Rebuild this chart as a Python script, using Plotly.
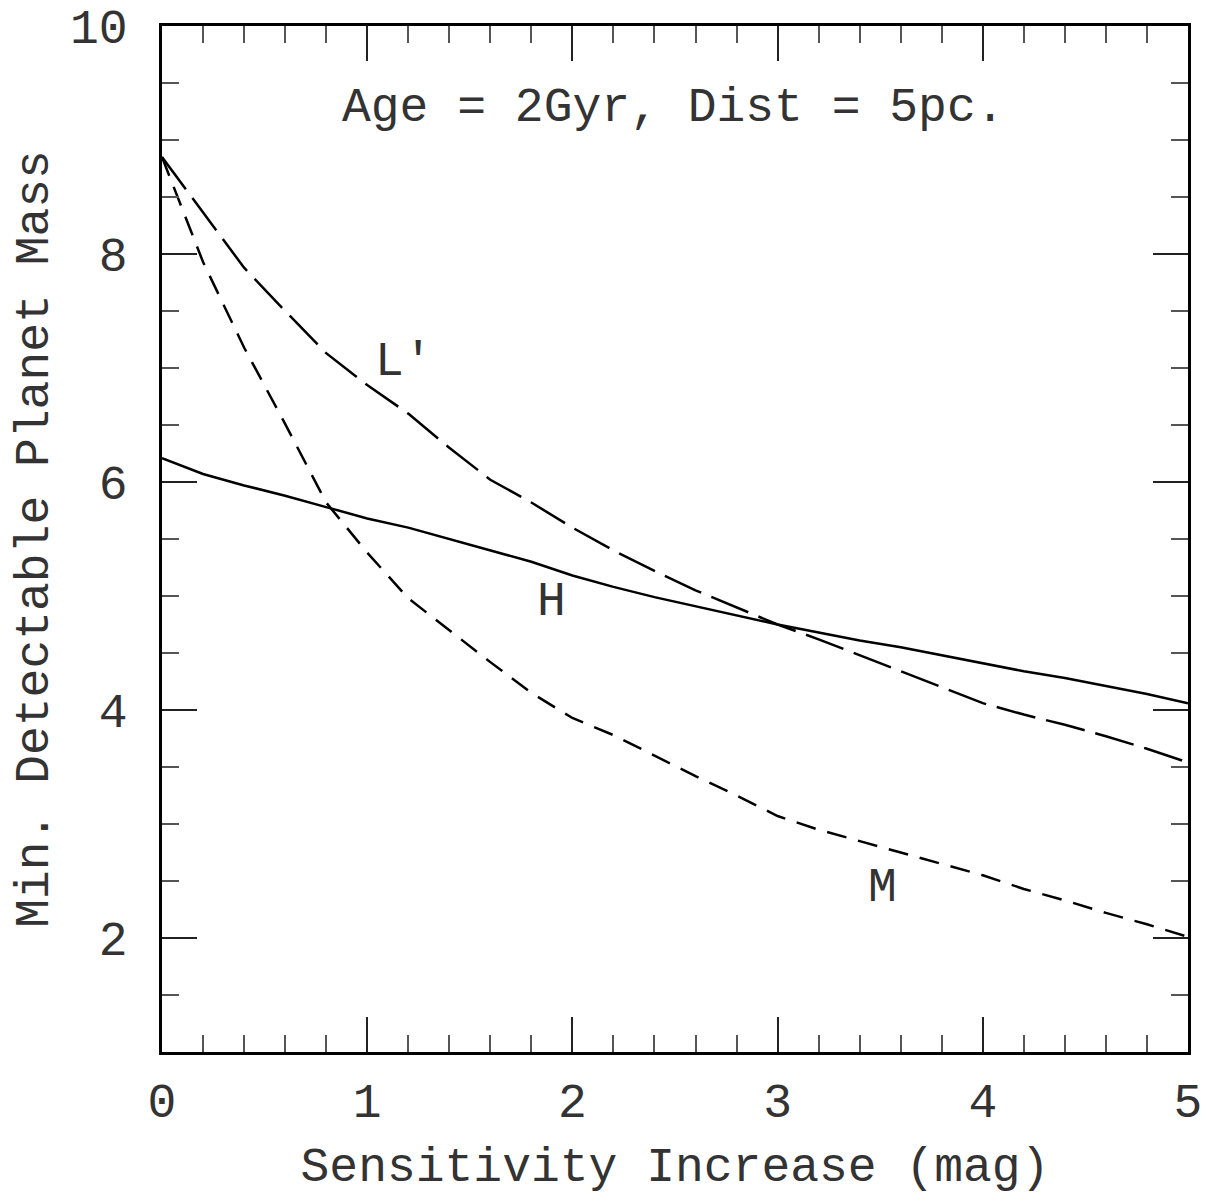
import plotly.graph_objects as go

x_vals = [0.0, 0.2, 0.4, 0.6, 0.8, 1.0, 1.2, 1.4, 1.6, 1.8, 2.0, 2.2, 2.4,
          2.6, 2.8, 3.0, 3.2, 3.4, 3.6, 3.8, 4.0, 4.2, 4.4, 4.6, 4.8, 5.0]

h_mass = [6.21, 6.07, 5.97, 5.88, 5.78, 5.68, 5.60, 5.50, 5.40, 5.30, 5.18,
          5.08, 4.99, 4.91, 4.83, 4.75, 4.68, 4.61, 4.55, 4.48, 4.41, 4.34,
          4.28, 4.21, 4.14, 4.06]

lp_mass = [8.85, 8.36, 7.88, 7.50, 7.13, 6.85, 6.60, 6.30, 6.02, 5.82, 5.60,
           5.40, 5.22, 5.05, 4.90, 4.75, 4.62, 4.48, 4.34, 4.20, 4.06, 3.96,
           3.87, 3.77, 3.66, 3.54]

m_mass = [8.85, 7.93, 7.18, 6.51, 5.82, 5.38, 4.98, 4.70, 4.42, 4.15, 3.93,
          3.78, 3.60, 3.42, 3.25, 3.07, 2.95, 2.85, 2.75, 2.65, 2.55, 2.43,
          2.33, 2.22, 2.12, 2.01]

x_ticks = [0, 1, 2, 3, 4, 5]
y_ticks = [2, 4, 6, 8, 10]

FONT = "Liberation Mono"
FS = 48
TXT = "#333"

fig = go.Figure()
fig.add_trace(go.Scatter(x=x_vals, y=h_mass, mode="lines", name="H",
                         line=dict(color="black", width=2.5)))
fig.add_trace(go.Scatter(x=x_vals, y=lp_mass, mode="lines", name="L'",
                         line=dict(color="black", width=2.5, dash="40px,11px")))
fig.add_trace(go.Scatter(x=x_vals, y=m_mass, mode="lines", name="M",
                         line=dict(color="black", width=2.5, dash="20px,12px")))

labels = [
    (2.495, 9.28, "Age = 2Gyr, Dist = 5pc."),
    (1.18, 7.05, "L'"),
    (1.90, 4.95, "H"),
    (3.51, 2.44, "M"),
]
for lx, ly, txt in labels:
    fig.add_annotation(x=lx, y=ly, text=txt, showarrow=False,
                       xanchor="center", yanchor="middle",
                       font=dict(family=FONT, size=FS, color=TXT))

axis_common = dict(
    showline=True, linecolor="black", linewidth=2.5, mirror="ticks",
    ticks="inside", tickcolor="#222", tickwidth=1.5, ticklen=35,
    showgrid=False, zeroline=False,
    ticklabeloverflow="allow",
    tickfont=dict(family=FONT, size=FS, color=TXT),
)

fig.update_xaxes(
    range=[0, 5], tickvals=x_ticks,
    minor=dict(dtick=0.2, ticks="inside", ticklen=17, tickcolor="#555", tickwidth=1.5),
    title=dict(text="Sensitivity Increase (mag)",
               font=dict(family=FONT, size=FS, color=TXT), standoff=24),
    ticklabelstandoff=5, automargin=True,
    **axis_common,
)
fig.update_yaxes(
    range=[1, 10], tickvals=y_ticks,
    minor=dict(dtick=0.5, ticks="inside", ticklen=17, tickcolor="#555", tickwidth=1.5),
    title=dict(text="Min. Detectable Planet Mass",
               font=dict(family=FONT, size=FS, color=TXT), standoff=10),
    ticklabelstandoff=22, automargin=False,
    **axis_common,
)

fig.update_layout(
    width=1196, height=1187,
    margin=dict(l=154, r=16, t=18, b=143, autoexpand=False),
    plot_bgcolor="white", paper_bgcolor="white",
    showlegend=False,
)

fig.write_html("out.html")
